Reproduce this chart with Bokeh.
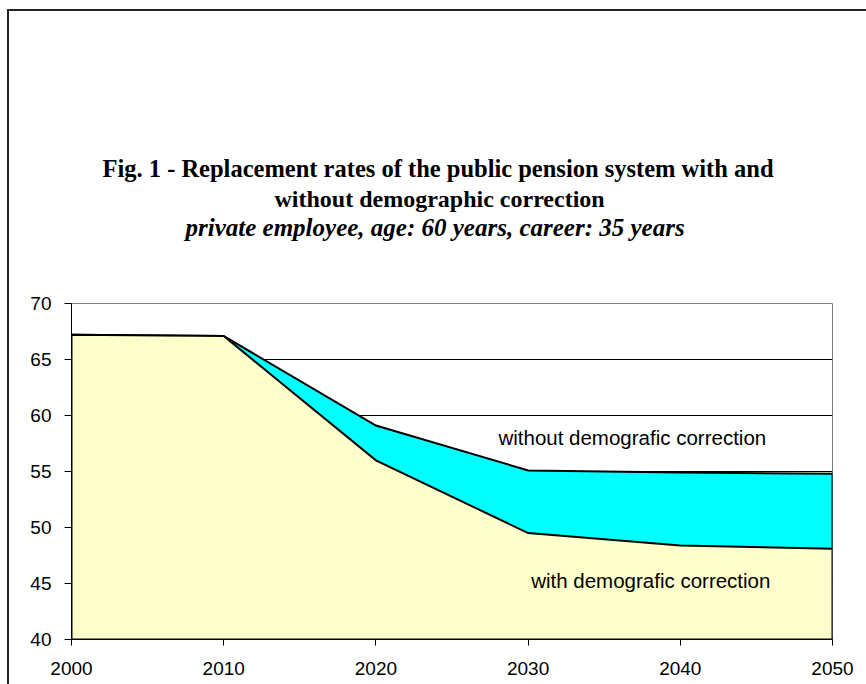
from bokeh.plotting import figure
from bokeh.layouts import column
from bokeh.models import Label, Title, FixedTicker
from bokeh.embed import file_html
from bokeh.resources import INLINE

# Replacement rates (%) by year
years = [2000, 2010, 2020, 2030, 2040, 2050]
without_correction = [67.2, 67.1, 59.1, 55.1, 54.9, 54.8]
with_correction = [67.2, 67.1, 56.0, 49.5, 48.4, 48.1]
y_ticks = [40, 45, 50, 55, 60, 65, 70]
y_floor = 40

title_line1 = "Fig. 1 - Replacement rates of the public pension system with and"
title_line2 = "without demographic correction"
subtitle = "private employee, age: 60 years, career: 35 years"
label_without = "without demografic correction"
label_with = "with demografic correction"

p = figure(
    width=857, height=673,
    x_range=(2000, 2050), y_range=(40, 70),
    title=None,
    output_backend="svg", toolbar_location=None,
    min_border_left=62, min_border_right=34,
    min_border_top=292, min_border_bottom=45,
    background_fill_color="white", border_fill_color="white",
)

# stacked-looking areas: the uncorrected series behind, corrected in front
p.patch(x=years + [years[-1], years[0]], y=without_correction + [y_floor, y_floor],
        fill_color="#00FFFF", line_color="black", line_width=2, line_join="miter")
p.patch(x=years + [years[-1], years[0]], y=with_correction + [y_floor, y_floor],
        fill_color="#FFFFCC", line_color="black", line_width=2, line_join="miter")

# axes
for ax in (p.xaxis[0], p.yaxis[0]):
    ax.axis_line_color = "black"
    ax.axis_line_width = 1
    ax.major_tick_line_color = "black"
    ax.major_tick_in = 0
    ax.minor_tick_line_color = None
    ax.major_label_text_font = "Liberation Sans"
    ax.major_label_text_font_size = "19px"
    ax.major_label_text_color = "black"

p.xaxis.ticker = FixedTicker(ticks=years)
p.xaxis.major_tick_out = 6
p.xaxis.major_label_standoff = 16
p.yaxis.ticker = FixedTicker(ticks=y_ticks)
p.yaxis.major_tick_out = 7
p.yaxis.major_label_standoff = 13

p.xgrid.visible = False
p.ygrid.ticker = FixedTicker(ticks=y_ticks)
p.ygrid.grid_line_color = "black"
p.ygrid.grid_line_width = 1
p.outline_line_color = "#808080"
p.outline_line_width = 1

# title block, stacked upward from the plot area (blank spacer first)
for text, style, size, offset, standoff in [
        (" ", "normal", "24px", 0, 34),
        (subtitle, "bold italic", "25px", 114, 1),
        (title_line2, "bold", "24px", 203, 0),
        (title_line1, "bold", "24.5px", 31, 3)]:
    p.add_layout(Title(text=text, align="left", offset=offset,
                       text_font="Liberation Serif", text_font_style=style,
                       text_font_size=size, text_color="black",
                       standoff=standoff), "above")

# series labels inside the plot
p.add_layout(Label(x=2028.05, y=58.04, text=label_without, text_align="left",
                   text_baseline="middle", text_font="Liberation Sans",
                   text_font_size="20.5px", text_color="black"))
p.add_layout(Label(x=2030.2, y=45.27, text=label_with, text_align="left",
                   text_baseline="middle", text_font="Liberation Sans",
                   text_font_size="20.5px", text_color="black"))

# chart area frame around everything
chart = column(p, styles={
    "border-left": "2px solid #222222",
    "border-top": "2px solid #222222",
    "margin-left": "7px",
    "margin-top": "9px",
})

open("out.html", "w").write(file_html(chart, INLINE))
